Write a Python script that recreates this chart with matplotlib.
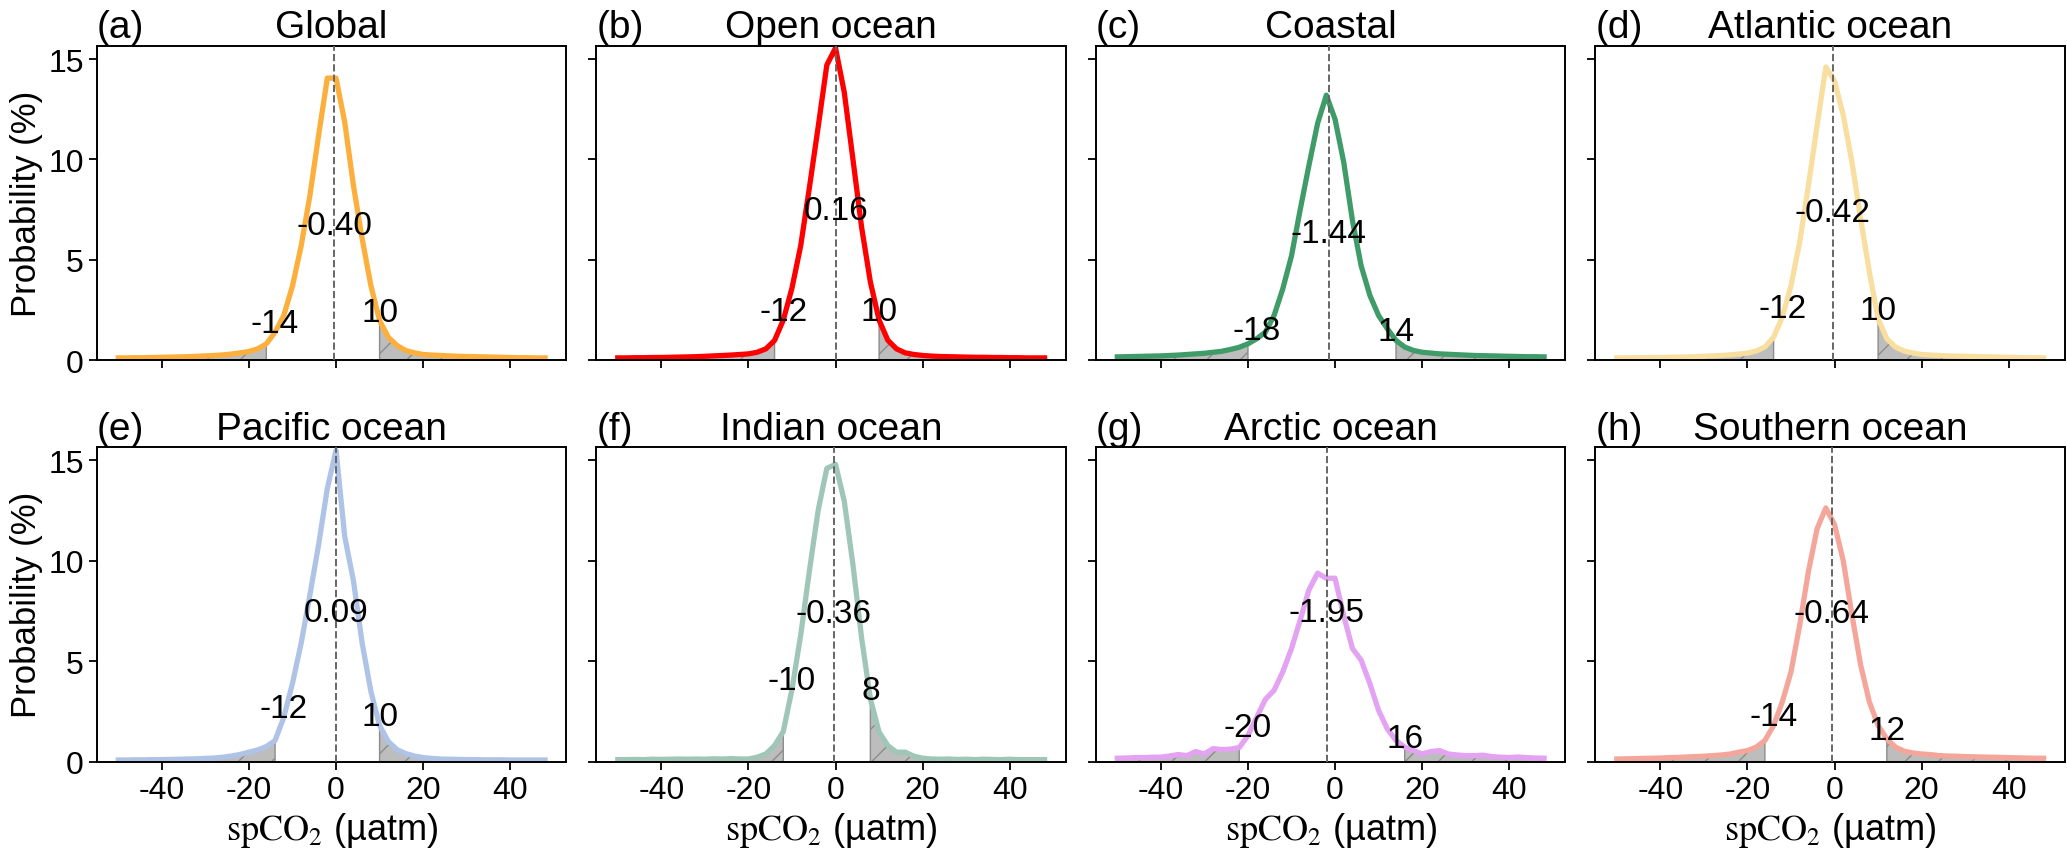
import numpy as np
import matplotlib
matplotlib.use('Agg')
import matplotlib.pyplot as plt

plt.rcParams['font.family'] = ['Liberation Sans', 'DejaVu Sans']
plt.rcParams['mathtext.fontset'] = 'stix'
plt.rcParams['axes.unicode_minus'] = False
plt.rcParams['hatch.linewidth'] = 1.0

# bin centres of spCO2 (uatm)
x = np.arange(-50, 50, 2)

panels = ['(a)', '(b)', '(c)', '(d)', '(e)', '(f)', '(g)', '(h)']
names = ['Global', 'Open ocean', 'Coastal', 'Atlantic ocean',
         'Pacific ocean', 'Indian ocean', 'Arctic ocean', 'Southern ocean']
colors = ['#FDAF3E', '#FF0000', '#3F9C69', '#F8DF9F',
          '#AFC3E6', '#A0C6B8', '#E3A2F2', '#F5A69B']

means = [-0.40, 0.16, -1.44, -0.42, 0.09, -0.36, -1.95, -0.64]
p_low = [-14, -12, -18, -12, -12, -10, -20, -14]
p_high = [10, 10, 14, 10, 10, 8, 16, 12]

# probability (%) for each bin
prob_global = [0.12, 0.12, 0.13, 0.13, 0.14, 0.15, 0.16, 0.17, 0.18, 0.2, 0.22, 0.24, 0.27, 0.31, 0.37,
               0.44, 0.57, 0.82, 1.4, 2.23, 3.7, 5.7, 8.2, 11.2, 14.05, 14.05, 11.85, 8.7, 6.05, 3.72, 1.98,
               1.15, 0.74, 0.49, 0.37, 0.29,
               0.26, 0.24, 0.22, 0.2, 0.19, 0.18, 0.17, 0.16, 0.15, 0.14, 0.13, 0.13, 0.12, 0.12]
prob_open = [0.12, 0.12, 0.13, 0.13, 0.14, 0.14, 0.15, 0.16, 0.17, 0.18, 0.2, 0.22, 0.24, 0.26, 0.29,
             0.32, 0.4, 0.57, 0.99, 2.0, 3.6, 5.7, 8.6, 11.6, 14.7, 15.55, 13.35, 10.0, 6.6, 3.9, 2.0,
             1.0, 0.57, 0.37, 0.29, 0.24,
             0.21, 0.19, 0.18, 0.17, 0.16, 0.15, 0.15, 0.14, 0.14, 0.13, 0.13, 0.12, 0.12, 0.12]
prob_coastal = [0.17, 0.18, 0.19, 0.2, 0.21, 0.22, 0.24, 0.26, 0.29, 0.32, 0.35, 0.4, 0.45, 0.54, 0.65,
                0.82, 1.07, 1.4, 2.23, 3.56, 5.2, 7.5, 9.7, 11.8, 13.2, 12.0, 9.85, 6.95, 4.7, 3.23, 2.23,
                1.57, 0.99, 0.66, 0.49, 0.4,
                0.36, 0.32, 0.3, 0.28, 0.26, 0.24, 0.23, 0.22, 0.21, 0.2, 0.19, 0.18, 0.18, 0.17]
prob_atlantic = [0.12, 0.12, 0.13, 0.13, 0.14, 0.14, 0.15, 0.16, 0.17, 0.18, 0.2, 0.22, 0.24, 0.27, 0.31,
                 0.36, 0.46, 0.66, 1.15, 2.15, 3.72, 5.9, 8.7, 11.7, 14.6, 13.9, 12.2, 9.86, 7.04, 4.39, 2.07,
                 1.07, 0.66, 0.46, 0.36, 0.29,
                 0.26, 0.24, 0.22, 0.21, 0.2, 0.19, 0.18, 0.17, 0.16, 0.15, 0.14, 0.13, 0.13, 0.12]
prob_pacific = [0.08, 0.08, 0.09, 0.09, 0.1, 0.1, 0.11, 0.12, 0.13, 0.14, 0.16, 0.18, 0.22, 0.28, 0.36,
                0.47, 0.58, 0.75, 1.05, 2.2, 3.9, 5.9, 8.3, 10.8, 13.6, 15.5, 11.2, 9.0, 5.9, 3.5, 1.8,
                1.0, 0.6, 0.4, 0.28, 0.2,
                0.16, 0.13, 0.12, 0.11, 0.1, 0.1, 0.09, 0.09, 0.09, 0.08, 0.08, 0.08, 0.08, 0.08]
prob_indian = [0.1, 0.1, 0.11, 0.1, 0.12, 0.11, 0.12, 0.13, 0.12, 0.13, 0.12, 0.14, 0.13, 0.15, 0.13,
               0.13, 0.22, 0.38, 0.8, 1.5, 3.6, 6.3, 9.5, 12.5, 14.6, 14.8, 12.97, 9.8, 6.13, 3.13, 1.47,
               0.8, 0.47, 0.47, 0.27, 0.17,
               0.13, 0.12, 0.13, 0.11, 0.12, 0.1, 0.12, 0.11, 0.1, 0.12, 0.1, 0.1, 0.1, 0.1]
prob_arctic = [0.17, 0.18, 0.2, 0.2, 0.22, 0.22, 0.28, 0.35, 0.3, 0.5, 0.38, 0.65, 0.6, 0.62, 0.7,
               1.3, 2.2, 3.1, 3.55, 4.47, 5.63, 7.05, 8.55, 9.38, 9.13, 9.13, 7.25, 5.63, 5.05, 3.88, 2.55,
               1.63, 1.05, 0.72, 0.55, 0.38,
               0.5, 0.55, 0.38, 0.33, 0.3, 0.3, 0.32, 0.25, 0.22, 0.2, 0.23, 0.2, 0.18, 0.17]
prob_southern = [0.13, 0.14, 0.15, 0.16, 0.17, 0.18, 0.2, 0.21, 0.23, 0.25, 0.27, 0.3, 0.33, 0.38, 0.47,
                 0.55, 0.72, 1.05, 1.8, 2.97, 4.47, 6.8, 9.47, 11.6, 12.63, 11.8, 10.0, 7.3, 4.8, 2.97, 1.8,
                 1.13, 0.72, 0.52, 0.43, 0.38,
                 0.35, 0.3, 0.28, 0.27, 0.25, 0.24, 0.23, 0.22, 0.21, 0.2, 0.19, 0.18, 0.17, 0.17]

probs = [prob_global, prob_open, prob_coastal, prob_atlantic,
         prob_pacific, prob_indian, prob_arctic, prob_southern]

# height of the mean label in each panel
mean_label_y = [6.7, 7.45, 6.3, 7.37, 7.4, 7.38, 7.4, 7.38]

fig, axes = plt.subplots(2, 4, figsize=(20.67, 8.54), dpi=100, sharex=True, sharey=True)
fig.subplots_adjust(left=0.0469, right=0.9990, bottom=0.107, top=0.9455,
                    wspace=0.064, hspace=0.275)

for k, ax in enumerate(axes.flat):
    y = np.array(probs[k])
    lo, hi = p_low[k], p_high[k]
    ax.fill_between(x, y, where=x < lo, facecolor='#bdbdbd', edgecolor='#8c8c8c',
                    hatch='/', linewidth=1.0, zorder=1)
    ax.fill_between(x, y, where=x >= hi, facecolor='#bdbdbd', edgecolor='#8c8c8c',
                    hatch='/', linewidth=1.0, zorder=1)
    ax.plot(x, y, color=colors[k], lw=3.8, zorder=2)
    ax.axvline(means[k], color='#666666', ls='--', lw=1.4, zorder=3)

    ax.text(means[k], mean_label_y[k], '%.2f' % means[k], ha='center', va='center',
            fontsize=24, zorder=4)
    ax.text(lo, np.interp(lo, x, y), str(lo), ha='center', va='baseline', fontsize=24, zorder=4)
    ax.text(hi, np.interp(hi, x, y), str(hi), ha='center', va='baseline', fontsize=24, zorder=4)

    ax.set_title(names[k], fontsize=28, pad=6)
    ax.set_title(panels[k], loc='left', fontsize=28, pad=6)

    ax.set_xticks([-40, -20, 0, 20, 40])
    ax.set_yticks([0, 5, 10, 15])
    ax.tick_params(labelsize=23, length=6, width=1.3, direction='out')
    for sp in ax.spines.values():
        sp.set_linewidth(1.4)

    if k % 4 == 0:
        ax.set_ylabel('Probability (%)', fontsize=25)
    if k >= 4:
        ax.set_xlabel(r'$\mathrm{spCO_2}$ (µatm)', fontsize=26)

axes[0, 0].set_ylim(0, 15.67)

fig.savefig('out.png', dpi=100)
